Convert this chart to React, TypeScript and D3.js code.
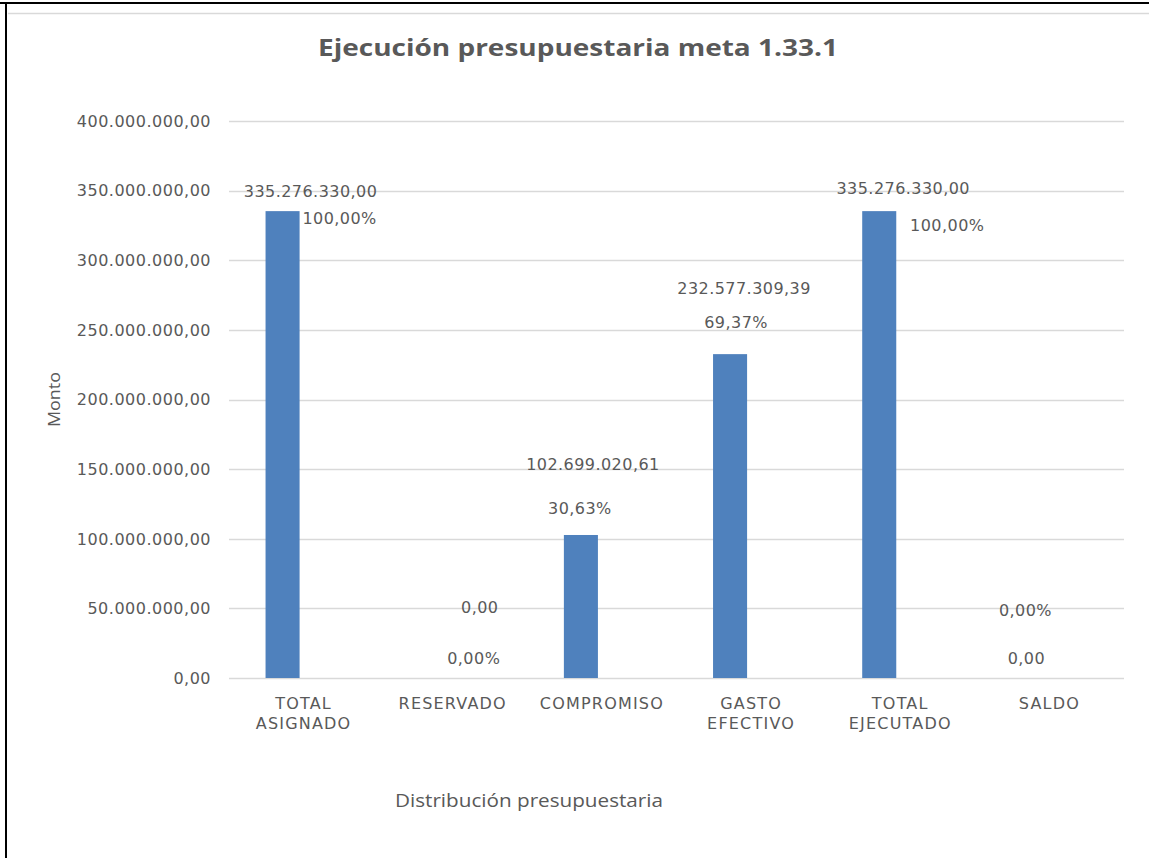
import React from "react";
import * as d3 from "d3";

const categories = ["TOTAL ASIGNADO", "RESERVADO", "COMPROMISO", "GASTO EFECTIVO", "TOTAL EJECUTADO", "SALDO"];
const categoryLines = [["TOTAL", "ASIGNADO"], ["RESERVADO"], ["COMPROMISO"], ["GASTO", "EFECTIVO"], ["TOTAL", "EJECUTADO"], ["SALDO"]];
const montos = [335276330.0, 0, 102699020.61, 232577309.39, 335276330.0, 0];
const montoLabels = ["335.276.330,00", "0,00", "102.699.020,61", "232.577.309,39", "335.276.330,00", "0,00"];
const porcentajeLabels = ["100,00%", "0,00%", "30,63%", "69,37%", "100,00%", "0,00%"];
const yTicks = [0, 50000000, 100000000, 150000000, 200000000, 250000000, 300000000, 350000000, 400000000];

// label placement tweaks (dx from band centre, dy from bar top)
const montoLabelOffsets = [[7, -20], [27, -71], [-9, -71], [-7, -66], [3, -23], [-23, -20]];
const pctLabelOffsets = [[36, 7], [21, -20], [-22, -27], [-15, -32], [47, 14], [-24, -68]];

const W = 1149;
const H = 858;
const plot = { left: 229, right: 1124, top: 121, bottom: 678 };
const textColor = "#595959";
const barColor = "#4f81bd";
const gridColor = "#d9d9d9";

function fmt(v: number) {
  const s = d3.format(",.2f")(v);
  return s.replace(/,/g, "#").replace(/\./g, ",").replace(/#/g, ".");
}

export default function App() {
  const x0 = d3.scaleBand<string>().domain(categories).range([plot.left, plot.right]).padding(0);
  const bw = x0.bandwidth();
  const x1 = d3
    .scaleBand<string>()
    .domain(["monto", "pct"])
    .range([bw * 0.245, bw * 0.755])
    .paddingInner(0.19);
  const y = d3.scaleLinear().domain([0, 400000000]).range([plot.bottom, plot.top]);

  const valFont = "'DejaVu Sans', sans-serif";

  return (
    <svg
      width={W}
      height={H}
      style={{ position: "absolute", left: 0, top: 0, background: "#fff" }}
      xmlns="http://www.w3.org/2000/svg"
    >
      <rect x={0} y={0} width={W} height={H} fill="#fff" />
      {/* outer frame */}
      <line x1={0} x2={W} y1={3} y2={3} stroke="#000" strokeWidth={2} />
      <line x1={6} x2={6} y1={2} y2={H} stroke="#000" strokeWidth={2} />
      <line x1={8} x2={W} y1={13.5} y2={13.5} stroke="#d9d9d9" strokeWidth={1.5} />

      {/* title */}
      <text
        x={578}
        y={56}
        textAnchor="middle"
        fill={textColor}
        fontFamily="'Open Sans', sans-serif"
        fontWeight={700}
        fontSize={23}
        textLength={520}
        lengthAdjust="spacingAndGlyphs"
      >
        Ejecución presupuestaria meta 1.33.1
      </text>

      {/* gridlines */}
      {yTicks.map((t) => (
        <line
          key={"g" + t}
          x1={plot.left}
          x2={plot.right}
          y1={Math.round(y(t)) + 0.5}
          y2={Math.round(y(t)) + 0.5}
          stroke={gridColor}
          strokeWidth={1.5}
        />
      ))}

      {/* y tick labels */}
      {yTicks.map((t) => (
        <text
          key={"t" + t}
          x={211}
          y={y(t)}
          dy="0.36em"
          textAnchor="end"
          fill={textColor}
          fontFamily={valFont}
          fontSize={16}
          letterSpacing={0.5}
        >
          {fmt(t)}
        </text>
      ))}

      {/* y axis title */}
      <text
        transform={`translate(60,${(plot.top + plot.bottom) / 2}) rotate(-90)`}
        textAnchor="middle"
        fill={textColor}
        fontFamily="'Open Sans', sans-serif"
        fontSize={17}
        textLength={55}
        lengthAdjust="spacingAndGlyphs"
      >
        Monto
      </text>

      {/* bars */}
      {categories.map((c, i) => (
        <rect
          key={"b" + c}
          x={(x0(c) as number) + (x1("monto") as number)}
          y={y(montos[i])}
          width={x1.bandwidth()}
          height={plot.bottom - y(montos[i])}
          fill={barColor}
        />
      ))}

      {/* data labels */}
      {categories.map((c, i) => {
        const cx = (x0(c) as number) + bw / 2;
        const top = y(montos[i]);
        return (
          <g key={"l" + c} fill={textColor} fontFamily={valFont} fontSize={16} letterSpacing={0.45} textAnchor="middle">
            <text x={cx + montoLabelOffsets[i][0]} y={top + montoLabelOffsets[i][1]} dy="0.36em">
              {montoLabels[i]}
            </text>
            <text x={cx + pctLabelOffsets[i][0]} y={top + pctLabelOffsets[i][1]} dy="0.36em">
              {porcentajeLabels[i]}
            </text>
          </g>
        );
      })}

      {/* category labels */}
      {categories.map((c, i) => {
        const cx = (x0(c) as number) + bw / 2;
        return (
          <text
            key={"c" + c}
            x={cx}
            textAnchor="middle"
            fill={textColor}
            fontFamily={valFont}
            fontSize={16}
            letterSpacing={1.2}
          >
            {categoryLines[i].map((ln, k) => (
              <tspan key={k} x={cx} y={703 + k * 20} dy="0.36em">
                {ln}
              </tspan>
            ))}
          </text>
        );
      })}

      {/* x axis title */}
      <text
        x={529}
        y={801}
        dy="0.36em"
        textAnchor="middle"
        fill={textColor}
        fontFamily="'Open Sans', sans-serif"
        fontSize={18}
        textLength={268}
        lengthAdjust="spacingAndGlyphs"
      >
        Distribución presupuestaria
      </text>
    </svg>
  );
}
